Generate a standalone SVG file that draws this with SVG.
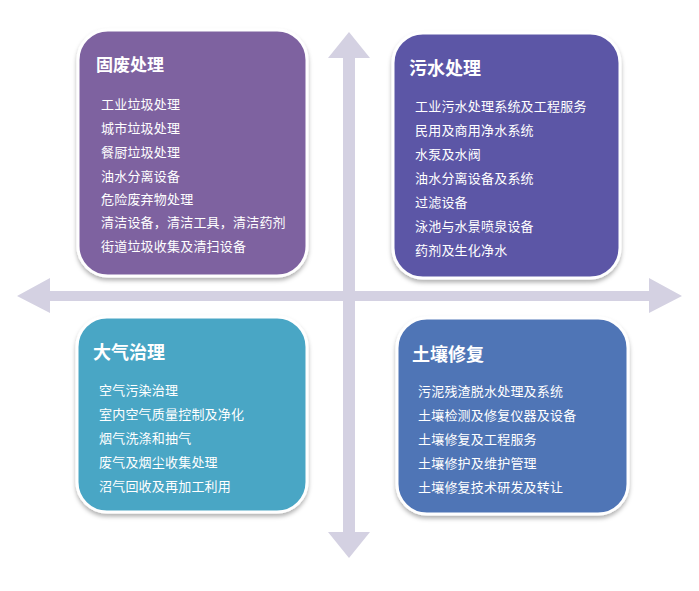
<svg xmlns="http://www.w3.org/2000/svg" width="699" height="591" viewBox="0 0 699 591">
<defs>
<filter id="sh" x="-10%" y="-10%" width="120%" height="125%">
<feDropShadow dx="0" dy="3" stdDeviation="2" flood-color="#000" flood-opacity="0.3"/>
</filter>
<style>
.box{stroke:#fff;stroke-width:3;filter:url(#sh)}
.t{font-family:"Liberation Sans","Noto Sans CJK SC",sans-serif;font-weight:bold;fill:#fff}
.i{font-family:"Liberation Sans","Noto Sans CJK SC",sans-serif;font-size:13px;fill:#fff;letter-spacing:0.2px}
.arr{fill:#D4D1E2}
</style>
</defs>
<rect width="699" height="591" fill="#fff"/>
<g id="connectors">
<polygon class="arr" points="349,32 370,58 355,58 355,532 370,532 349,558 328,532 343,532 343,58 328,58"/>
<polygon class="arr" points="17,296 50,278 50,291 649,291 649,278 682,296 649,313 649,301 50,301 50,313"/>
</g>
<g id="solid-waste">
<rect class="box" x="78" y="30" width="229" height="246" rx="30" fill="#7E62A0"/>
<text class="t" x="96" y="71" font-size="17">固废处理</text>
<text class="i" x="101" y="109">工业垃圾处理</text>
<text class="i" x="101" y="133">城市垃圾处理</text>
<text class="i" x="101" y="157">餐厨垃圾处理</text>
<text class="i" x="101" y="181">油水分离设备</text>
<text class="i" x="101" y="204">危险废弃物处理</text>
<text class="i" x="101" y="227">清洁设备，清洁工具，清洁药剂</text>
<text class="i" x="101" y="251">街道垃圾收集及清扫设备</text>
</g>
<g id="wastewater">
<rect class="box" x="393" y="33" width="227" height="245" rx="30" fill="#5B57A6"/>
<text class="t" x="409" y="75" font-size="18">污水处理</text>
<text class="i" x="415" y="111">工业污水处理系统及工程服务</text>
<text class="i" x="415" y="135">民用及商用净水系统</text>
<text class="i" x="415" y="159">水泵及水阀</text>
<text class="i" x="415" y="183">油水分离设备及系统</text>
<text class="i" x="415" y="207">过滤设备</text>
<text class="i" x="415" y="231">泳池与水景喷泉设备</text>
<text class="i" x="415" y="255">药剂及生化净水</text>
</g>
<g id="air">
<rect class="box" x="77" y="317" width="230" height="195" rx="30" fill="#4AA6C5"/>
<text class="t" x="93" y="359" font-size="18">大气治理</text>
<text class="i" x="99" y="395">空气污染治理</text>
<text class="i" x="99" y="419">室内空气质量控制及净化</text>
<text class="i" x="99" y="443">烟气洗涤和抽气</text>
<text class="i" x="99" y="467">废气及烟尘收集处理</text>
<text class="i" x="99" y="491">沼气回收及再加工利用</text>
</g>
<g id="soil">
<rect class="box" x="397" y="318" width="231" height="196" rx="30" fill="#4F74B6"/>
<text class="t" x="412" y="361" font-size="18">土壤修复</text>
<text class="i" x="418" y="396">污泥残渣脱水处理及系统</text>
<text class="i" x="418" y="420">土壤检测及修复仪器及设备</text>
<text class="i" x="418" y="444">土壤修复及工程服务</text>
<text class="i" x="418" y="468">土壤修护及维护管理</text>
<text class="i" x="418" y="492">土壤修复技术研发及转让</text>
</g>
</svg>
